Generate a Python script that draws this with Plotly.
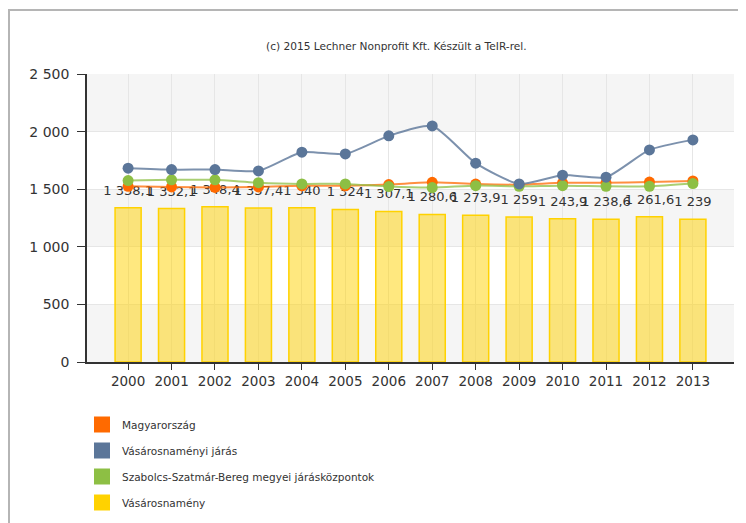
import plotly.graph_objects as go

years = [str(y) for y in range(2000, 2014)]
magyarorszag = [1525, 1520, 1515, 1520, 1530, 1530, 1540, 1560, 1545, 1540, 1555, 1555, 1562, 1572]
jaras = [1682, 1670, 1670, 1659, 1821, 1806, 1963, 2049, 1726, 1546, 1622, 1604, 1841, 1928]
megyei = [1575, 1581, 1581, 1557, 1546, 1546, 1523, 1514, 1531, 1525, 1531, 1525, 1525, 1549]
varos = [1338.1, 1332.1, 1348.4, 1337.4, 1340, 1324, 1307.1, 1280.6, 1273.9, 1259, 1243.9, 1238.6, 1261.6, 1239]

names = ["Magyarország", "Vásárosnaményi járás",
         "Szabolcs-Szatmár-Bereg megyei járásközpontok", "Vásárosnamény"]
colors = ["#FF6A00", "#5B7699", "#8DBF44", "#FFD200"]
line_colors = ["rgba(255,106,0,0.75)", "rgba(91,118,153,0.8)", "rgba(141,191,68,0.75)"]
yticks = [0, 500, 1000, 1500, 2000, 2500]
subtitle = "(c) 2015 Lechner Nonprofit Kft. Készült a TeIR-rel."

FONT = "DejaVu Sans"
W, H = 738, 515          # page body has an 8px margin
L, T, PW, PH = 79, 66, 647, 288

fig = go.Figure()

fig.add_trace(go.Bar(
    x=years, y=varos, name=names[3], showlegend=False,
    marker=dict(color="rgba(255,210,0,0.5)", line=dict(color="#FFD200", width=1.5)),
    width=0.6, hoverinfo="x+y",
))

# value labels above the bars
fig.add_trace(go.Scatter(
    x=years, y=varos, mode="markers+text", showlegend=False, hoverinfo="skip",
    marker=dict(size=14, color="rgba(0,0,0,0)"),
    texttemplate="%{y:,.1~f}", textposition="top center", cliponaxis=False,
    textfont=dict(family=FONT, size=13, color="#333333"),
))

for ys, c, lc, n in [(magyarorszag, colors[0], line_colors[0], names[0]),
                     (megyei, colors[2], line_colors[2], names[2]),
                     (jaras, colors[1], line_colors[1], names[1])]:
    fig.add_trace(go.Scatter(
        x=years, y=ys, name=n, mode="lines+markers", showlegend=False,
        line=dict(color=lc, width=2, shape="spline", smoothing=0.6),
        marker=dict(color=c, size=11), cliponaxis=False,
    ))

# legend entries
for i, (n, c) in enumerate(zip(names, colors)):
    fig.add_trace(go.Scatter(
        x=[None], y=[None], mode="markers", name=n, legendgroup=str(i),
        marker=dict(symbol="square", size=16, color=c), legendrank=i,
    ))

# alternating bands
for i in range(0, len(yticks) - 1, 2):
    fig.add_shape(type="rect", xref="paper", yref="y", x0=0, x1=1,
                  y0=yticks[i], y1=yticks[i + 1],
                  fillcolor="#F5F5F5", line_width=0, layer="below")

# outer frame
fig.add_shape(type="rect", xref="paper", yref="paper",
              x0=(1 - L) / PW, x1=(760 - L) / PW,
              y0=(T + PH - 540) / PH, y1=(T + PH - 2) / PH,
              line=dict(color="#B5B5B5", width=2), fillcolor="rgba(0,0,0,0)")

fig.add_annotation(text=subtitle, xref="paper", yref="paper",
                   x=(388 - L) / PW, y=(T + PH - 30) / PH, showarrow=False,
                   font=dict(family=FONT, size=10.6, color="#333333"))

fig.update_layout(
    width=W, height=H,
    margin=dict(l=L, r=W - L - PW, t=T, b=H - T - PH, autoexpand=False),
    paper_bgcolor="white", plot_bgcolor="white",
    separators=", ",
    barmode="overlay",
    font=dict(family=FONT, color="#333333"),
    legend=dict(xref="container", yref="container",
                x=74 / W, y=1 - 402 / H, xanchor="left", yanchor="top",
                orientation="v", font=dict(family=FONT, size=10.5, color="#333333"),
                tracegroupgap=7, itemwidth=30, traceorder="grouped"),
    xaxis=dict(type="category", showgrid=True, gridcolor="#E6E6E6",
               showline=True, linecolor="#333333", linewidth=1.5,
               ticks="outside", ticklen=6, tickcolor="#333333", automargin=False,
               tickfont=dict(family=FONT, size=13.5, color="#333333")),
    yaxis=dict(range=[0, 2500], tickvals=yticks, tickformat=",",
               showgrid=True, gridcolor="#E6E6E6", zeroline=False,
               showline=True, linecolor="#333333", linewidth=1.5,
               ticks="outside", ticklen=8, tickcolor="#333333",
               ticklabelstandoff=5, automargin=False,
               tickfont=dict(family=FONT, size=14, color="#333333")),
)

fig.write_html("out.html")
